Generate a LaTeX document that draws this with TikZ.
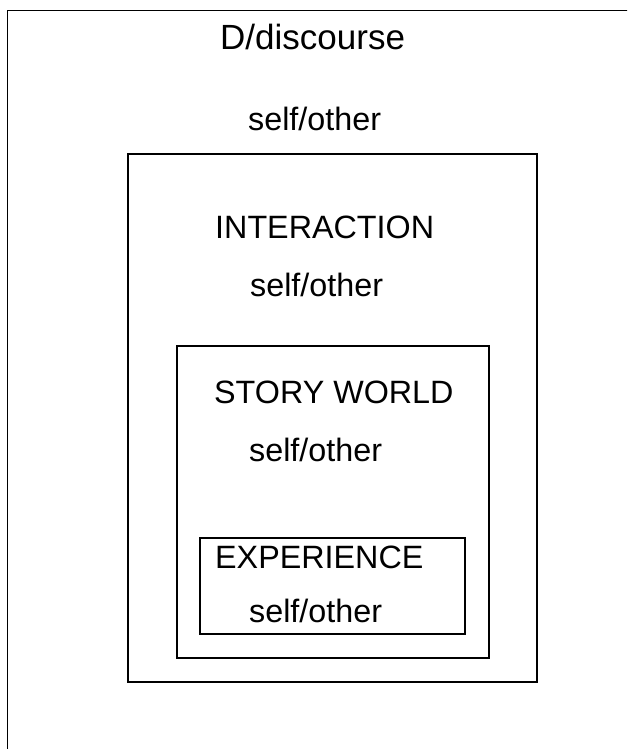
\documentclass[tikz,border=0pt]{standalone}
\usepackage{fontspec}
\setmainfont{Liberation Sans}
\tikzset{
    frame/.style = {rectangle, draw=black, line width=1.2pt, inner sep=0pt},
    heading/.style = {anchor=base west, inner sep=0pt, font=\fontsize{32.3}{38}\selectfont},
    title/.style = {anchor=base west, inner sep=0pt, font=\fontsize{35}{41}\selectfont}
}

\begin{document}
\begin{tikzpicture}[x=1pt, y=-1pt]
\useasboundingbox (0,0) rectangle (627,749);
\clip (0,0) rectangle (627,749);

% nested frames, outermost runs off the page
\node (discourse) [frame, minimum width=642.5pt, minimum height=759.5pt] at (328.75,390.25) {};
\node (interaction) [frame, minimum width=409pt, minimum height=528pt] at (332.5,418) {};
\node (story) [frame, minimum width=312pt, minimum height=312pt] at (333,502) {};
\node (experience) [frame, minimum width=265pt, minimum height=96pt] at (332.5,586) {};

% level names and self/other pairs
\node (discoursename) [title] at (220,50) {D/discourse};
\node (discourseself) [heading] at (248,131) {self/other};
\node (interactionname) [heading] at (215,238) {INTERACTION};
\node (interactionself) [heading] at (250,296) {self/other};
\node (storyname) [heading] at (214,403) {STORY WORLD};
\node (storyself) [heading] at (249,461) {self/other};
\node (experiencename) [heading] at (215,568) {EXPERIENCE};
\node (experienceself) [heading] at (249,622) {self/other};
\end{tikzpicture}
\end{document}
